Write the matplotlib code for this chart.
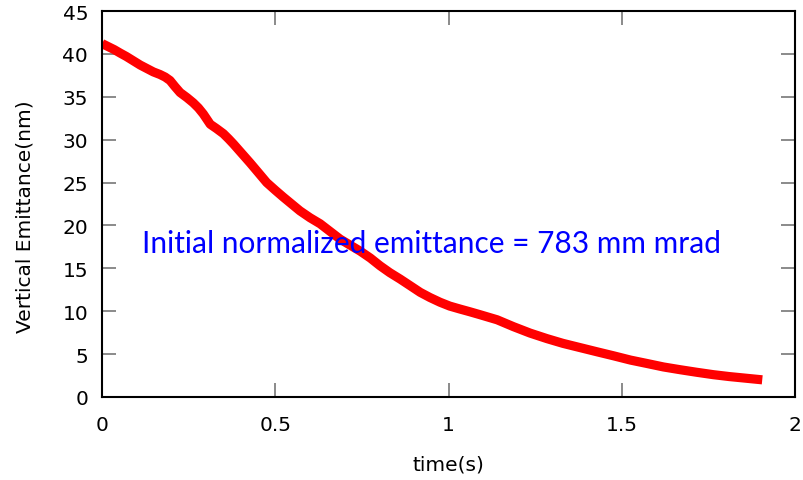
import matplotlib
matplotlib.use("Agg")
import matplotlib.pyplot as plt

# time (s) and vertical emittance (nm)
time_s = [0.0, 0.015, 0.035, 0.052, 0.07, 0.09, 0.11, 0.129, 0.148, 0.167,
          0.182, 0.196, 0.21, 0.225, 0.245, 0.263, 0.278, 0.292, 0.302, 0.312,
          0.33, 0.35, 0.365, 0.379, 0.403, 0.427, 0.45, 0.475, 0.5, 0.523,
          0.547, 0.571, 0.6, 0.629, 0.658, 0.687, 0.716, 0.745, 0.774, 0.802,
          0.83, 0.86, 0.89, 0.918, 0.946, 0.975, 1.003, 1.033, 1.06, 1.09,
          1.14, 1.187, 1.235, 1.284, 1.33, 1.38, 1.43, 1.476, 1.525, 1.573,
          1.62, 1.668, 1.716, 1.764, 1.81, 1.86, 1.905]
emit_nm = [41.2, 40.9, 40.5, 40.1, 39.7, 39.2, 38.7, 38.3, 37.9, 37.6,
           37.3, 36.9, 36.2, 35.5, 34.9, 34.3, 33.7, 33.0, 32.4, 31.8,
           31.3, 30.7, 30.1, 29.5, 28.4, 27.3, 26.2, 25.0, 24.1, 23.3,
           22.5, 21.7, 20.9, 20.2, 19.3, 18.4, 17.7, 17.0, 16.2, 15.3,
           14.5, 13.75, 12.95, 12.2, 11.6, 11.05, 10.6, 10.25, 9.95, 9.6,
           9.0, 8.2, 7.45, 6.8, 6.25, 5.75, 5.25, 4.8, 4.3, 3.9,
           3.5, 3.18, 2.88, 2.6, 2.38, 2.18, 2.0]

xticks = [0, 0.5, 1, 1.5, 2]
xtick_labels = ["0", "0.5", "1", "1.5", "2"]
yticks = [0, 5, 10, 15, 20, 25, 30, 35, 40, 45]

note = "Initial normalized emittance = 783 mm mrad"

fig = plt.figure(figsize=(8.04, 4.81), dpi=100)
ax = fig.add_axes([0.127, 0.1726, 0.862, 0.8024])

ax.plot(time_s, emit_nm, color="red", lw=6.6, solid_capstyle="butt",
        solid_joinstyle="round", zorder=2)

ax.set_xlim(0, 2)
ax.set_ylim(0, 45)
ax.set_xticks(xticks)
ax.set_xticklabels(xtick_labels)
ax.set_yticks(yticks)

ax.tick_params(direction="in", length=10, width=1.2, color="#777777",
               top=True, right=True, labelsize=14.5, pad=10)
ax.tick_params(axis="x", pad=13)
for sp in ax.spines.values():
    sp.set_linewidth(1.5)
    sp.set_color("black")

ax.set_xlabel("time(s)", fontsize=14.5, labelpad=15)
ax.set_ylabel("Vertical Emittance(nm)", fontsize=14.5, labelpad=20, y=0.47)

ax.text(0.476, 0.40, note, transform=ax.transAxes, ha="center", va="center",
        color="#0000ff", fontsize=21.5, family=["Lato", "DejaVu Sans"], zorder=3)

fig.savefig("out.png", dpi=100)
